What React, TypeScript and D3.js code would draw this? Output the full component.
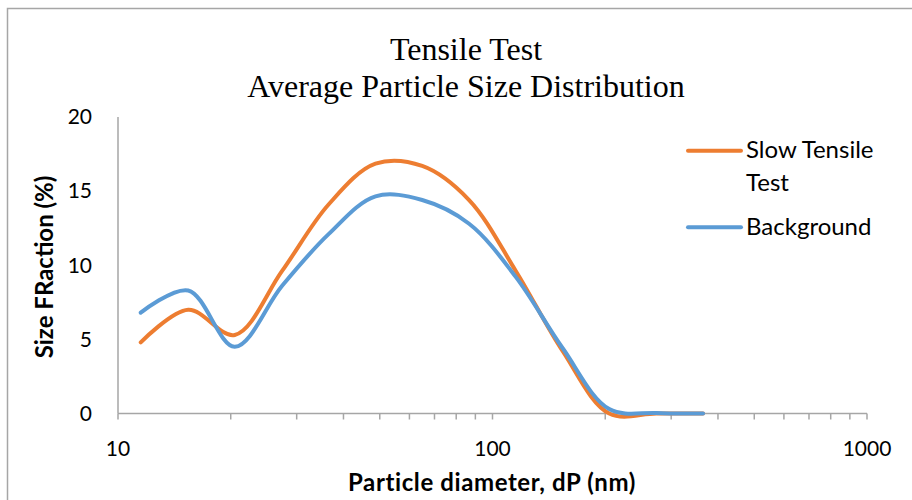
import React from 'react';
import * as d3 from 'd3';

// particle diameter bins (nm)
const diameters = [11.5, 15.4, 20.5, 27.4, 36.5, 48.7, 64.9, 86.6, 115.5, 154, 205, 274, 365];
// size fraction (%)
const slowTensile = [4.8, 7.0, 5.3, 9.6, 14.1, 16.85, 16.7, 14.4, 9.6, 4.2, 0.0, 0.0, 0.0];
const background = [6.8, 8.3, 4.5, 8.6, 12.1, 14.65, 14.4, 12.8, 9.2, 4.4, 0.3, 0.03, 0.0];

const xTicksMajor = [10, 100, 1000];
const yTicks = [0, 5, 10, 15, 20];

const seriesNames = ['Slow Tensile Test', 'Background'];
const seriesColors = ['#ED7D31', '#5B9BD5'];

const W = 912, H = 500;
const sans = 'Lato, "Open Sans", sans-serif';
const serif = '"Liberation Serif", "Times New Roman", serif';

const App = () => {
  const x = d3.scaleLog().domain([10, 1000]).range([118, 867]);
  const y = d3.scaleLinear().domain([0, 20]).range([413.5, 117]);

  // minor ticks on the log axis: 10,20..100,200..1000
  const minor: number[] = [];
  for (let dec = 10; dec < 1000; dec *= 10) {
    for (let k = 1; k <= 9; k++) minor.push(dec * k);
  }
  minor.push(1000);

  // excel-like smoothing
  const line = d3.line<number>()
    .x((_, i) => x(diameters[i]))
    .y(d => y(d))
    .curve(d3.curveCatmullRom.alpha(0.5));

  const series = [slowTensile, background];

  return (
    <svg width={W} height={H} style={{ position: 'absolute', left: 0, top: 0, background: '#fff' }}>
      <rect x={7.5} y={8.5} width={W + 10} height={H + 10} fill="#fff" stroke="#a6a6a6" strokeWidth={1.5} />

      <text x={466} y={60} textAnchor="middle" fontFamily={serif} fontSize={32}>Tensile Test</text>
      <text x={466} y={96.5} textAnchor="middle" fontFamily={serif} fontSize={32}>Average Particle Size Distribution</text>

      {/* axes */}
      <line x1={118} x2={118} y1={y(20)} y2={y(0)} stroke="#a6a6a6" strokeWidth={1.5} />
      <line x1={x(10)} x2={x(1000)} y1={y(0)} y2={y(0)} stroke="#a6a6a6" strokeWidth={1.5} />
      {minor.map(t => (
        <line key={t} x1={x(t)} x2={x(t)} y1={y(0)} y2={y(0) + 6} stroke="#a6a6a6" strokeWidth={1.5} />
      ))}
      {xTicksMajor.map(t => (
        <text key={t} x={x(t)} y={456} textAnchor="middle" fontFamily={sans} fontSize={21} fill="#000">{t}</text>
      ))}
      {yTicks.map(t => (
        <text key={t} x={92} y={y(t)} dy="0.35em" textAnchor="end" fontFamily={sans} fontSize={21} fill="#000">{t}</text>
      ))}

      <text x={492} y={491} textAnchor="middle" fontFamily={sans} fontWeight="bold" fontSize={24} letterSpacing={0.6}>Particle diameter, dP (nm)</text>
      <text transform="translate(53,267) rotate(-90)" textAnchor="middle" fontFamily={sans} fontWeight="bold" fontSize={24}>Size FRaction (%)</text>

      {/* series */}
      {series.map((s, i) => (
        <path key={seriesNames[i]} d={line(s) || ''} fill="none" stroke={seriesColors[i]} strokeWidth={4} strokeLinecap="round" />
      ))}

      {/* legend */}
      <line x1={688} x2={741} y1={150.7} y2={150.7} stroke={seriesColors[0]} strokeWidth={4} strokeLinecap="round" />
      <text x={746} y={158} fontFamily={sans} fontSize={24}>Slow Tensile</text>
      <text x={746} y={191} fontFamily={sans} fontSize={24}>Test</text>
      <line x1={688} x2={741} y1={227.3} y2={227.3} stroke={seriesColors[1]} strokeWidth={4} strokeLinecap="round" />
      <text x={746} y={234.5} fontFamily={sans} fontSize={24}>Background</text>
    </svg>
  );
};

export default App;
